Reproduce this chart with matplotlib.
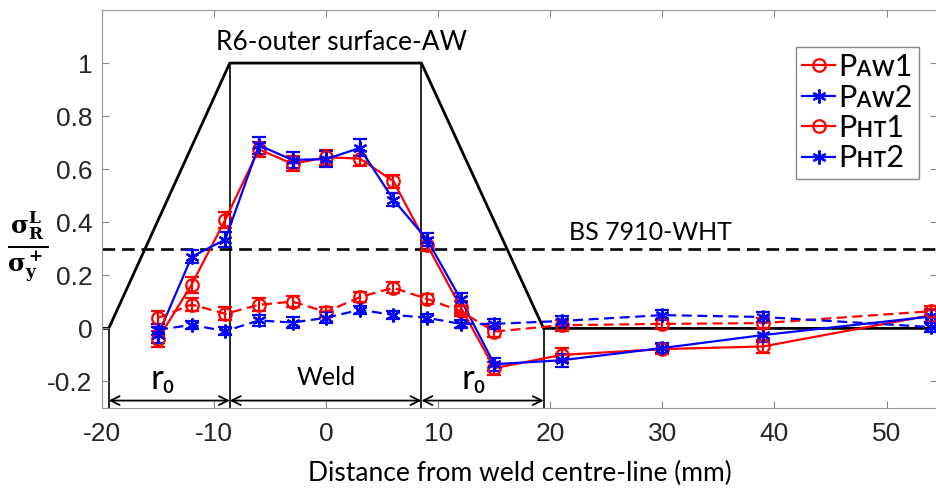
import matplotlib
matplotlib.use("Agg")
import matplotlib.pyplot as plt
from matplotlib.font_manager import FontProperties

plt.rcParams["axes.unicode_minus"] = False

# measurement positions (mm from weld centre-line)
x_pos = [-15, -12, -9, -6, -3, 0, 3, 6, 9, 12, 15, 21, 30, 39, 54]

# normalised residual stress, as-welded and heat-treated
p_aw1 = [-0.04, 0.165, 0.41, 0.675, 0.62, 0.645, 0.64, 0.555, 0.315, 0.08, -0.15, -0.10, -0.078, -0.068, 0.05]
p_aw2 = [-0.025, 0.27, 0.335, 0.69, 0.635, 0.638, 0.68, 0.485, 0.335, 0.11, -0.135, -0.12, -0.074, -0.025, 0.045]
p_ht1 = [0.04, 0.09, 0.055, 0.089, 0.101, 0.062, 0.118, 0.153, 0.111, 0.065, -0.012, 0.012, 0.017, 0.02, 0.065]
p_ht2 = [-0.005, 0.013, -0.01, 0.03, 0.022, 0.04, 0.07, 0.051, 0.04, 0.017, 0.017, 0.028, 0.05, 0.043, 0.005]

err_aw1 = [0.03, 0.03, 0.03, 0.028, 0.028, 0.028, 0.028, 0.025, 0.025, 0.025, 0.025, 0.025, 0.02, 0.025, 0.025]
err_aw2 = [0.03, 0.025, 0.03, 0.032, 0.03, 0.03, 0.032, 0.025, 0.025, 0.025, 0.025, 0.025, 0.02, 0.025, 0.025]
err_ht1 = [0.025, 0.025, 0.025, 0.025, 0.02, 0.02, 0.02, 0.02, 0.02, 0.02, 0.02, 0.02, 0.02, 0.02, 0.02]
err_ht2 = [0.02, 0.015, 0.015, 0.02, 0.02, 0.02, 0.015, 0.015, 0.015, 0.015, 0.02, 0.02, 0.02, 0.02, 0.02]

# R6 outer-surface assumed profile and zone boundaries
r6_x = [-21, -19.4, -8.6, 8.5, 19.4, 56]
r6_y = [0, 0, 1, 1, 0, 0]
bs7910_level = 0.3

x_ticks = [-20, -10, 0, 10, 20, 30, 40, 50]
y_ticks = [-0.2, 0, 0.2, 0.4, 0.6, 0.8, 1]

sans = ["Lato", "DejaVu Sans"]
tick_font = "Liberation Sans"

fig = plt.figure(figsize=(9.37, 4.93), dpi=100)
ax = fig.add_axes([102 / 937, 85 / 493, 835 / 937, 398 / 493])

# reference curves
ax.plot(r6_x, r6_y, color="black", lw=2.0, zorder=1)
ax.axhline(bs7910_level, color="black", lw=1.9, dashes=(4.8, 2.6), zorder=1)

ymin = -0.3
for bx, by in zip(r6_x[1:5], r6_y[1:5]):
    ax.plot([bx, bx], [ymin, by], color="black", lw=1.2, zorder=1)

arrow_y = -0.272
zones = [(r6_x[1], r6_x[2]), (r6_x[2], r6_x[3]), (r6_x[3], r6_x[4])]
for x1, x2 in zones:
    ax.annotate("", xy=(x2, arrow_y), xytext=(x1, arrow_y),
                arrowprops=dict(arrowstyle="<->", lw=1.3, color="black",
                                mutation_scale=16, shrinkA=0, shrinkB=0))

ax.text(-14.6, -0.19, "r\u2080", family=sans, fontsize=25, ha="center", va="center")
ax.text(0.0, -0.185, "Weld", family=sans, fontsize=18, ha="center", va="center")
ax.text(13.2, -0.19, "r\u2080", family=sans, fontsize=25, ha="center", va="center")
ax.text(1.4, 1.077, "R6-outer surface-AW", family=sans, fontsize=19, ha="center", va="center")
ax.text(28.9, 0.362, "BS 7910-WHT", family=sans, fontsize=18, ha="center", va="center")

red = "#ff0000"
blue = "#0000ff"
star = (6, 2, 0)
series = [
    (p_aw1, err_aw1, red, "o", "-", "P\u1d00\u1d211"),
    (p_aw2, err_aw2, blue, star, "-", "P\u1d00\u1d212"),
    (p_ht1, err_ht1, red, "o", (0, (4.5, 2.5)), "P\u029c\u1d1b1"),
    (p_ht2, err_ht2, blue, star, (0, (4.5, 2.5)), "P\u029c\u1d1b2"),
]
handles = []
for vals, err, col, mk, ls, lab in series:
    ax.errorbar(x_pos, vals, yerr=err, color=col, marker=mk, ls=ls, lw=1.6,
                ms=9 if mk == "o" else 10, mfc="none", mew=1.6,
                capsize=5, elinewidth=1.6, capthick=1.6, zorder=3)
    h, = ax.plot([], [], color=col, marker=mk, ls="-", lw=1.6,
                 ms=9 if mk == "o" else 10, mfc="none", mew=1.6)
    handles.append((h, lab))

leg = ax.legend([h for h, _ in handles], [l for _, l in handles],
                loc="upper right", bbox_to_anchor=(919 / 937, 446 / 493),
                bbox_transform=fig.transFigure,
                prop=FontProperties(family=sans, size=22),
                handlelength=1.1, handletextpad=0.1, borderpad=0.2,
                labelspacing=0.08, borderaxespad=0, fancybox=False,
                framealpha=1, edgecolor="#888888")
leg.get_frame().set_linewidth(1.0)

ax.set_xlim(-20, 54.5)
ax.set_ylim(-0.3, 1.2)
ax.set_xticks(x_ticks)
ax.set_yticks(y_ticks)
ax.set_yticklabels(["-0.2", "0", "0.2", "0.4", "0.6", "0.8", "1"])
ax.tick_params(direction="in", length=5, width=0.8, color="#888888",
               top=True, right=True, labelsize=19, labelcolor="#262626", pad=7)
ax.tick_params(axis="x", pad=10)
for lbl in ax.get_xticklabels() + ax.get_yticklabels():
    lbl.set_family(tick_font)
for sp in ax.spines.values():
    sp.set_color("#999999")
    sp.set_linewidth(0.8)

ax.set_xlabel("Distance from weld centre-line (mm)", family=sans, fontsize=19,
              labelpad=11)
fig.text(28 / 937, 246 / 493, r"$\mathbf{\frac{\sigma^L_R}{\sigma^+_y}}$",
         math_fontfamily="dejavuserif", fontsize=25, ha="center", va="center")

fig.savefig("out.png", dpi=100)
